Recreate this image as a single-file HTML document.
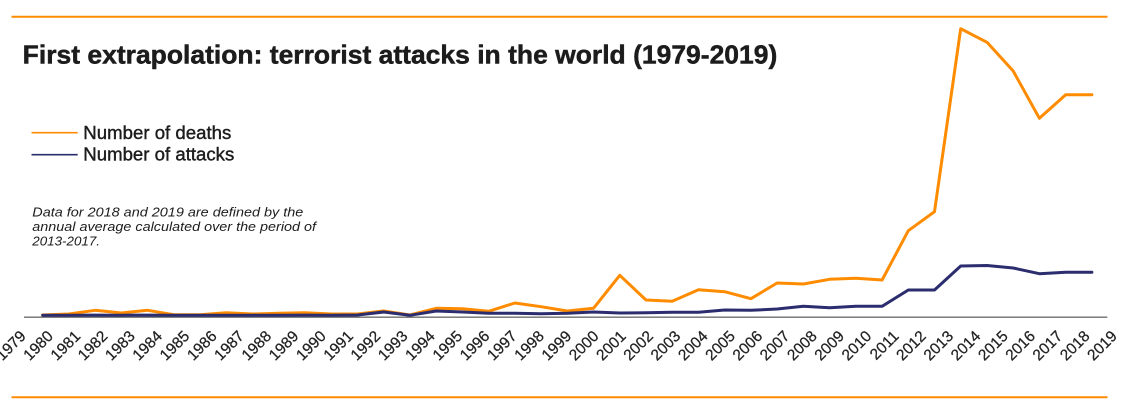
<!DOCTYPE html>
<html>
<head>
<meta charset="utf-8">
<style>
  html,body{margin:0;padding:0;background:#fff;}
  body{width:1134px;height:412px;overflow:hidden;}
  svg{display:block;}
  .t{font-family:"Liberation Sans",Arial,sans-serif;fill:#1c1c1c;}
  .lab{font-family:"Liberation Sans",Arial,sans-serif;font-size:15.5px;fill:#222;stroke:#222;stroke-width:0.25;}
</style>
</head>
<body>
<svg width="1134" height="412" viewBox="0 0 1134 412" xmlns="http://www.w3.org/2000/svg">
  <!-- top / bottom rules -->
  <line x1="11.5" y1="16.8" x2="1107.5" y2="16.8" stroke="#FF8C00" stroke-width="2"/>
  <line x1="11.5" y1="397.3" x2="1107.5" y2="397.3" stroke="#FF8C00" stroke-width="2"/>

  <!-- title -->
  <text class="t" x="22.7" y="63.3" font-size="26" font-weight="bold" stroke="#1c1c1c" stroke-width="0.5" textLength="754.6" lengthAdjust="spacingAndGlyphs">First extrapolation: terrorist attacks in the world (1979-2019)</text>

  <!-- legend -->
  <line x1="31.5" y1="132.7" x2="77.7" y2="132.7" stroke="#FF8C00" stroke-width="1.6"/>
  <text class="t" x="83.3" y="139" font-size="18" stroke="#1c1c1c" stroke-width="0.4" textLength="148" lengthAdjust="spacingAndGlyphs">Number of deaths</text>
  <line x1="31.5" y1="154.7" x2="77.7" y2="154.7" stroke="#2B2D6E" stroke-width="1.6"/>
  <text class="t" x="83.3" y="160.7" font-size="18" stroke="#1c1c1c" stroke-width="0.4" textLength="151" lengthAdjust="spacingAndGlyphs">Number of attacks</text>

  <!-- note -->
  <g class="t" font-size="12.5" font-style="italic">
    <text x="32.3" y="216.6" textLength="271" lengthAdjust="spacingAndGlyphs">Data for 2018 and 2019 are defined by the</text>
    <text x="32.3" y="231" textLength="283.7" lengthAdjust="spacingAndGlyphs">annual average calculated over the period of</text>
    <text x="32.3" y="245.6" textLength="67.7" lengthAdjust="spacingAndGlyphs">2013-2017.</text>
  </g>

  <!-- axis -->
  <line x1="24" y1="317.2" x2="1107.3" y2="317.2" stroke="#6e6e6e" stroke-width="1.4"/>

  <!-- deaths -->
  <polyline fill="none" stroke="#FF8C00" stroke-width="3" stroke-linejoin="round" stroke-linecap="round"
    points="42.7,315 68.9,314 95.2,310.3 121.4,313 147.6,310.3 173.9,314.7 200.1,314.7 226.3,312.7 252.5,314 278.8,313.3 305,312.7 331.2,314 357.5,314 383.7,311 409.9,315 436.2,308.3 462.4,308.7 488.6,311.3 514.8,303 541.1,306.7 567.3,311 593.5,308.3 619.8,275.3 646,300 672.2,301.3 698.5,289.7 724.7,291.7 750.9,298.7 777.1,283 803.4,284 829.6,279.3 855.8,278.3 882.1,280 908.3,230.7 934.5,211.7 960.7,28.7 987,42.3 1013.2,71 1039.4,118.3 1065.7,94.7 1091.9,94.7"/>

  <!-- attacks -->
  <polyline fill="none" stroke="#2B2D6E" stroke-width="3" stroke-linejoin="round" stroke-linecap="round"
    points="42.7,315.3 68.9,315.2 95.2,315.1 121.4,315.2 147.6,315.1 173.9,315.3 200.1,315.3 226.3,315.2 252.5,315.3 278.8,315.2 305,315.1 331.2,315.2 357.5,315 383.7,312 409.9,315.3 436.2,311 462.4,312 488.6,313.3 514.8,313.3 541.1,313.7 567.3,313.3 593.5,312 619.8,313 646,312.7 672.2,312.3 698.5,312.3 724.7,310 750.9,310.3 777.1,309 803.4,306.3 829.6,307.7 855.8,306.3 882.1,306.3 908.3,290 934.5,290 960.7,266 987,265.5 1013.2,268 1039.4,273.7 1065.7,272.3 1091.9,272.3"/>

  <!-- x labels -->
  <g class="lab" text-anchor="end">
    <text transform="translate(26.7,337) rotate(-45)">1979</text>
    <text transform="translate(54.0,337) rotate(-45)">1980</text>
    <text transform="translate(81.3,337) rotate(-45)">1981</text>
    <text transform="translate(108.5,337) rotate(-45)">1982</text>
    <text transform="translate(135.8,337) rotate(-45)">1983</text>
    <text transform="translate(163.1,337) rotate(-45)">1984</text>
    <text transform="translate(190.4,337) rotate(-45)">1985</text>
    <text transform="translate(217.7,337) rotate(-45)">1986</text>
    <text transform="translate(244.9,337) rotate(-45)">1987</text>
    <text transform="translate(272.2,337) rotate(-45)">1988</text>
    <text transform="translate(299.5,337) rotate(-45)">1989</text>
    <text transform="translate(326.8,337) rotate(-45)">1990</text>
    <text transform="translate(354.1,337) rotate(-45)">1991</text>
    <text transform="translate(381.3,337) rotate(-45)">1992</text>
    <text transform="translate(408.6,337) rotate(-45)">1993</text>
    <text transform="translate(435.9,337) rotate(-45)">1994</text>
    <text transform="translate(463.2,337) rotate(-45)">1995</text>
    <text transform="translate(490.5,337) rotate(-45)">1996</text>
    <text transform="translate(517.7,337) rotate(-45)">1997</text>
    <text transform="translate(545.0,337) rotate(-45)">1998</text>
    <text transform="translate(572.3,337) rotate(-45)">1999</text>
    <text transform="translate(599.6,337) rotate(-45)">2000</text>
    <text transform="translate(626.9,337) rotate(-45)">2001</text>
    <text transform="translate(654.1,337) rotate(-45)">2002</text>
    <text transform="translate(681.4,337) rotate(-45)">2003</text>
    <text transform="translate(708.7,337) rotate(-45)">2004</text>
    <text transform="translate(736.0,337) rotate(-45)">2005</text>
    <text transform="translate(763.3,337) rotate(-45)">2006</text>
    <text transform="translate(790.5,337) rotate(-45)">2007</text>
    <text transform="translate(817.8,337) rotate(-45)">2008</text>
    <text transform="translate(845.1,337) rotate(-45)">2009</text>
    <text transform="translate(872.4,337) rotate(-45)">2010</text>
    <text transform="translate(899.7,337) rotate(-45)">2011</text>
    <text transform="translate(926.9,337) rotate(-45)">2012</text>
    <text transform="translate(954.2,337) rotate(-45)">2013</text>
    <text transform="translate(981.5,337) rotate(-45)">2014</text>
    <text transform="translate(1008.8,337) rotate(-45)">2015</text>
    <text transform="translate(1036.1,337) rotate(-45)">2016</text>
    <text transform="translate(1063.3,337) rotate(-45)">2017</text>
    <text transform="translate(1090.6,337) rotate(-45)">2018</text>
    <text transform="translate(1117.9,337) rotate(-45)">2019</text>
  </g>
</svg>
</body>
</html>
